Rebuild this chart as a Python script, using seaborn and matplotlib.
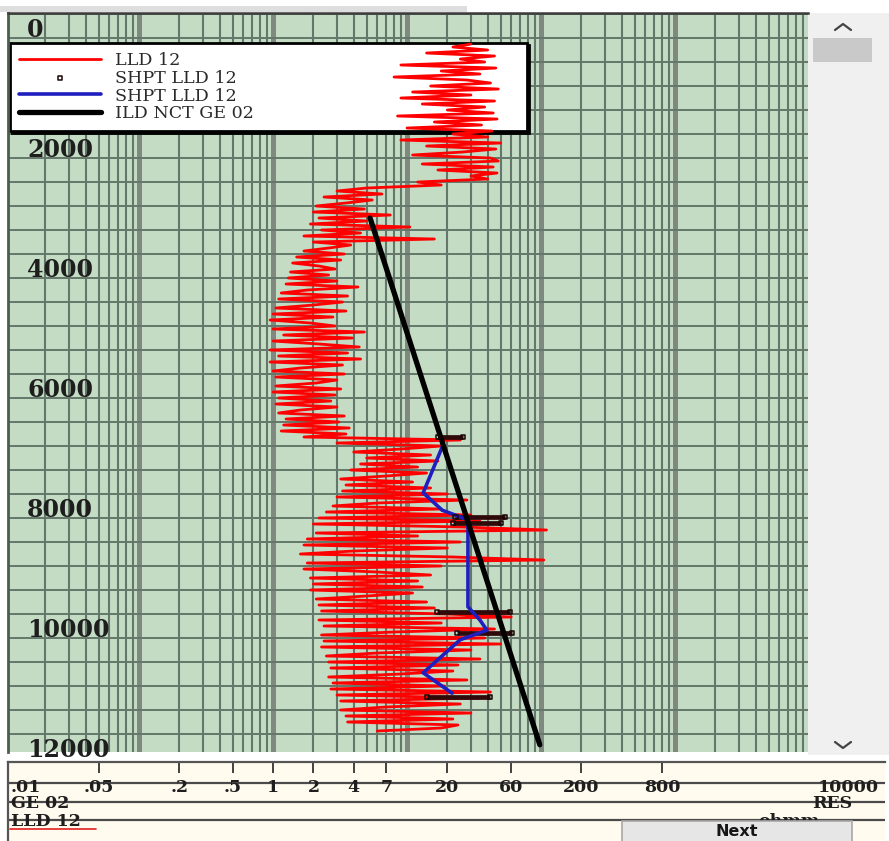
import numpy as np
import matplotlib
matplotlib.use("Agg")
import matplotlib.pyplot as plt
import seaborn as sns
from matplotlib.patches import Rectangle
from matplotlib.lines import Line2D
from matplotlib.ticker import LogLocator, NullLocator

# LLD 12 resistivity (ohmm), one sample every 50 ft starting at 500 ft
lld_upper = [
    30, 22, 40, 14, 45, 25, 38, 9, 46, 18,
    35, 8, 28, 42, 15, 48, 11, 30, 9, 45,
    13, 38, 20, 44, 8.5, 47, 16, 36, 10, 43,
    22, 40, 9, 50, 14, 46, 26, 11, 42, 48,
    13, 44, 17, 47, 30, 40, 12, 18, 5, 3,
]
lld_middle = [
    6.5, 2.4, 5.5, 3.5, 2.1, 4.8, 2.0, 7.5, 2.2, 5.0,
    1.9, 10.5, 2.3, 4.5, 1.7, 16, 2.0, 3.8, 2.6, 1.7,
    3.4, 1.5, 3.2, 1.4, 2.2, 2.9, 1.35, 2.6, 1.3, 3.0,
    1.25, 4.3, 1.8, 1.15, 3.6, 1.1, 3.3, 2.0, 1.05, 3.5,
    1.0, 2.8, 0.95, 1.9, 2.9, 1.0, 4.8, 1.2, 3.9, 1.0,
    2.2, 4.4, 0.95, 3.6, 1.1, 4.5, 0.95, 3.3, 1.6, 1.0,
    3.4, 1.05, 3.0, 2.1, 1.05, 3.2, 1.0, 2.9, 1.1, 2.7,
    1.05, 3.0, 1.6, 1.1, 3.4, 1.25, 3.1, 1.2, 3.7, 1.15,
    3.5, 1.7,
]
lld_lower = [
    25, 3.0, 18, 9, 4.0, 15, 5.0, 17, 4.5, 12,
    3.8, 14, 7, 3.2, 11, 3.5, 15, 3.3, 20, 3.0,
    28, 6, 2.8, 18, 2.5, 30, 2.2, 35, 2.0, 26,
    110, 2.1, 12, 1.8, 25, 1.7, 20, 4, 1.6, 22,
    105, 1.8, 18, 1.7, 6, 15, 1.9, 12, 2.0, 13,
    1.9, 11, 5, 2.1, 14, 2.2, 16, 2.3, 20, 60,
    2.2, 18, 2.4, 45, 8, 2.3, 38, 2.4, 50, 2.3,
    30, 6, 2.5, 35, 2.6, 24, 2.7, 22, 9, 2.6,
    28, 2.8, 19, 2.7, 42, 3.0, 35, 3.2, 25, 7,
    3.2, 30, 3.5, 22, 3.6, 24, 18, 6,
]
lld_start, lld_step = 500, 50

# shale point picks on LLD 12: depth and the LLD range sampled there
shpt_pick_depth = [7050, 8380, 8480, 9970, 10320, 11380]
shpt_pick_lo = [17, 23, 22, 16.7, 23.6, 14]
shpt_pick_hi = [26, 54, 50, 59, 61, 41.6]

# shale point trend (blue)
shpt_depth = [7180, 7980, 8270, 8430, 9880, 10100, 10270, 10430, 10980, 11320]
shpt_res = [18.6, 13.2, 18.3, 28.5, 28.5, 35, 39.5, 24.9, 13.2, 21.7]

# normal compaction trend, ILD NCT GE 02
nct_depth = [3400, 12180]
nct_res = [5.3, 98]

depth_labels = [0, 2000, 4000, 6000, 8000, 10000, 12000]
scale_ticks = [0.05, 0.2, 0.5, 1, 2, 4, 7, 20, 60, 200, 800]
scale_values = [0.01, 0.05, 0.2, 0.5, 1, 2, 4, 7, 20, 60, 200, 800, 10000]
scale_labels = [".01", ".05", ".2", ".5", "1", "2", "4", "7", "20", "60", "200", "800", "10000"]

lld_res = lld_upper + lld_middle + lld_lower
lld_depth = lld_start + lld_step * np.arange(len(lld_res))

sns.set_theme(style="white")
plt.rcParams["font.family"] = ["DejaVu Serif"]

W, H = 889, 841
fig = plt.figure(figsize=(W / 100, H / 100), dpi=100)
fig.patch.set_facecolor("white")


def fbox(x, y, w, h):
    # pixel box (top-left origin) -> figure fraction
    return [x / W, 1 - (y + h) / H, w / W, h / H]


# ---- main track ----
ax = fig.add_axes(fbox(8, 13, 800, 739))
ax.set_facecolor("#c4dcc4")

sns.lineplot(x=lld_res, y=lld_depth, sort=False, estimator=None, color="#ff0000",
             lw=2.0, ax=ax, label="LLD 12", zorder=3)
ax.hlines(shpt_pick_depth, shpt_pick_lo, shpt_pick_hi, color="#2e0a0a", lw=3.4, zorder=4)
sns.scatterplot(x=shpt_pick_lo + shpt_pick_hi, y=shpt_pick_depth + shpt_pick_depth,
                marker="s", s=9, facecolor="none", edgecolor="#1a0505", linewidth=1.1,
                ax=ax, label="SHPT LLD 12", zorder=6)
sns.lineplot(x=shpt_res, y=shpt_depth, sort=False, estimator=None, color="#1f1fbf",
             lw=2.6, ax=ax, label="SHPT LLD 12", zorder=4)
sns.lineplot(x=nct_res, y=nct_depth, sort=False, estimator=None, color="black",
             lw=3.8, ax=ax, label="ILD NCT GE 02", zorder=5)

ax.set_xscale("log")
ax.set_xlim(0.0105, 9850)
ax.set_ylim(12300, -17)
ax.xaxis.set_major_locator(LogLocator(base=10, numticks=20))
ax.xaxis.set_minor_locator(LogLocator(base=10, subs=np.arange(2, 10), numticks=20))
ax.set_yticks(np.arange(0, 12001, 400))
ax.set_axisbelow(True)
ax.grid(True, axis="x", which="major", color="#7f897f", lw=3.6)
ax.grid(True, axis="x", which="minor", color="#63776a", lw=1.5)
ax.grid(True, axis="y", which="major", color="#63776a", lw=1.4)
ax.tick_params(length=0, labelbottom=False, labelleft=False, which="both")
ax.set_xlabel("")
ax.set_ylabel("")
for side in ["right", "bottom"]:
    ax.spines[side].set_visible(False)
ax.spines["top"].set_color("#3c3c3c")
ax.spines["top"].set_linewidth(1.8)
ax.spines["left"].set_color("#4d5d4d")
ax.spines["left"].set_linewidth(2)

for d in depth_labels:
    ax.annotate(str(d), xy=(0.024, d), xycoords=("axes fraction", "data"),
                xytext=(0, -3), textcoords="offset points", ha="left", va="top",
                fontsize=17, fontweight="bold", color="#1e1e1e", zorder=7)

handles, labels = ax.get_legend_handles_labels()
leg = ax.legend(handles, labels, loc="upper left", bbox_to_anchor=(0.0025, 0.5, 0.646, 0.4594),
                mode="expand", borderaxespad=0, fontsize=12.6, labelspacing=0.05,
                borderpad=0.5, handlelength=4.7, handletextpad=0.8, fancybox=False,
                framealpha=1, edgecolor="black", facecolor="white",
                shadow={"color": "black", "alpha": 1, "ox": 1.5, "oy": -1.5})
leg.get_frame().set_linewidth(2.0)
leg.set_zorder(2)
for t in leg.get_texts():
    t.set_color("#2a2a2a")

# ---- scale footer ----
fax = fig.add_axes(fbox(8, 762, 877, 79))
fax.set_facecolor("#fffbee")
fax.set_xscale("log")
fax.set_xlim(0.0105, 36900)
fax.set_ylim(841, 762)
fax.set_xticks(scale_ticks)
fax.xaxis.set_minor_locator(NullLocator())
fax.set_yticks([])
fax.xaxis.set_ticks_position("top")
fax.tick_params(axis="x", direction="in", length=8, width=1.3, color="#333333",
                labeltop=False, labelbottom=False)
for side in ["right", "bottom"]:
    fax.spines[side].set_visible(False)
fax.spines["top"].set_color("#555555")
fax.spines["top"].set_linewidth(1.6)
fax.spines["left"].set_color("#555555")
fax.spines["left"].set_linewidth(1.6)
for yl in [783, 802, 820]:
    fax.axhline(yl, color="#4a4a4a", lw=1.6, zorder=1)

foot_font = dict(fontsize=12.5, fontweight="bold", color="#1e1e1e", zorder=3)
for v, lab in zip(scale_values, scale_labels):
    if v == scale_values[0]:
        fax.text(0.003, 787, lab, transform=fax.get_yaxis_transform(), ha="left",
                 va="center", **foot_font)
    elif v == scale_values[-1]:
        fax.text(0.993, 787, lab, transform=fax.get_yaxis_transform(), ha="right",
                 va="center", **foot_font)
    else:
        fax.text(v, 787, lab, ha="center", va="center", **foot_font)

fax.text(0.003, 803, "GE 02", transform=fax.get_yaxis_transform(), ha="left",
         va="center", **foot_font)
fax.text(0.963, 803, "RES", transform=fax.get_yaxis_transform(), ha="right",
         va="center", **foot_font)
fax.text(0.003, 821, "LLD 12", transform=fax.get_yaxis_transform(), ha="left",
         va="center", **foot_font)
fax.text(0.89, 813, "ohmm", transform=fax.get_yaxis_transform(), ha="center",
         va="top", **foot_font)
fax.add_line(Line2D([0.002, 0.10], [829, 829], transform=fax.get_yaxis_transform(),
                    color="#e02020", lw=1.2, zorder=3))

# Next button
fig.add_artist(Rectangle(fbox(622, 821, 230, 25)[:2], 230 / W, 25 / H,
                         transform=fig.transFigure, facecolor="#e6e6e6",
                         edgecolor="#a8a8a8", lw=1.2, zorder=5))
fig.text(737 / W, 1 - 831 / H, "Next", ha="center", va="center", fontsize=11.5,
         fontweight="bold", family=["DejaVu Sans"], color="#151515", zorder=6)

# ---- scrollbar and window chrome ----
fig.add_artist(Rectangle(fbox(808, 13, 81, 742)[:2], 81 / W, 742 / H,
                         transform=fig.transFigure, facecolor="#f0f0f0",
                         edgecolor="none", zorder=0))
fig.add_artist(Rectangle(fbox(813, 38, 59, 24)[:2], 59 / W, 24 / H,
                         transform=fig.transFigure, facecolor="#c9c9c9",
                         edgecolor="none", zorder=1))
fig.add_artist(Line2D([835 / W, 843 / W, 851 / W], [1 - 30 / H, 1 - 24 / H, 1 - 30 / H],
                      transform=fig.transFigure, color="#444444", lw=1.6, zorder=2))
fig.add_artist(Line2D([835 / W, 843 / W, 851 / W], [1 - 742 / H, 1 - 748 / H, 1 - 742 / H],
                      transform=fig.transFigure, color="#444444", lw=1.6, zorder=2))
fig.add_artist(Rectangle(fbox(0, 6, 467, 6)[:2], 467 / W, 6 / H,
                         transform=fig.transFigure, facecolor="#dedede",
                         edgecolor="none", zorder=0))

fig.savefig("out.png", dpi=100)
